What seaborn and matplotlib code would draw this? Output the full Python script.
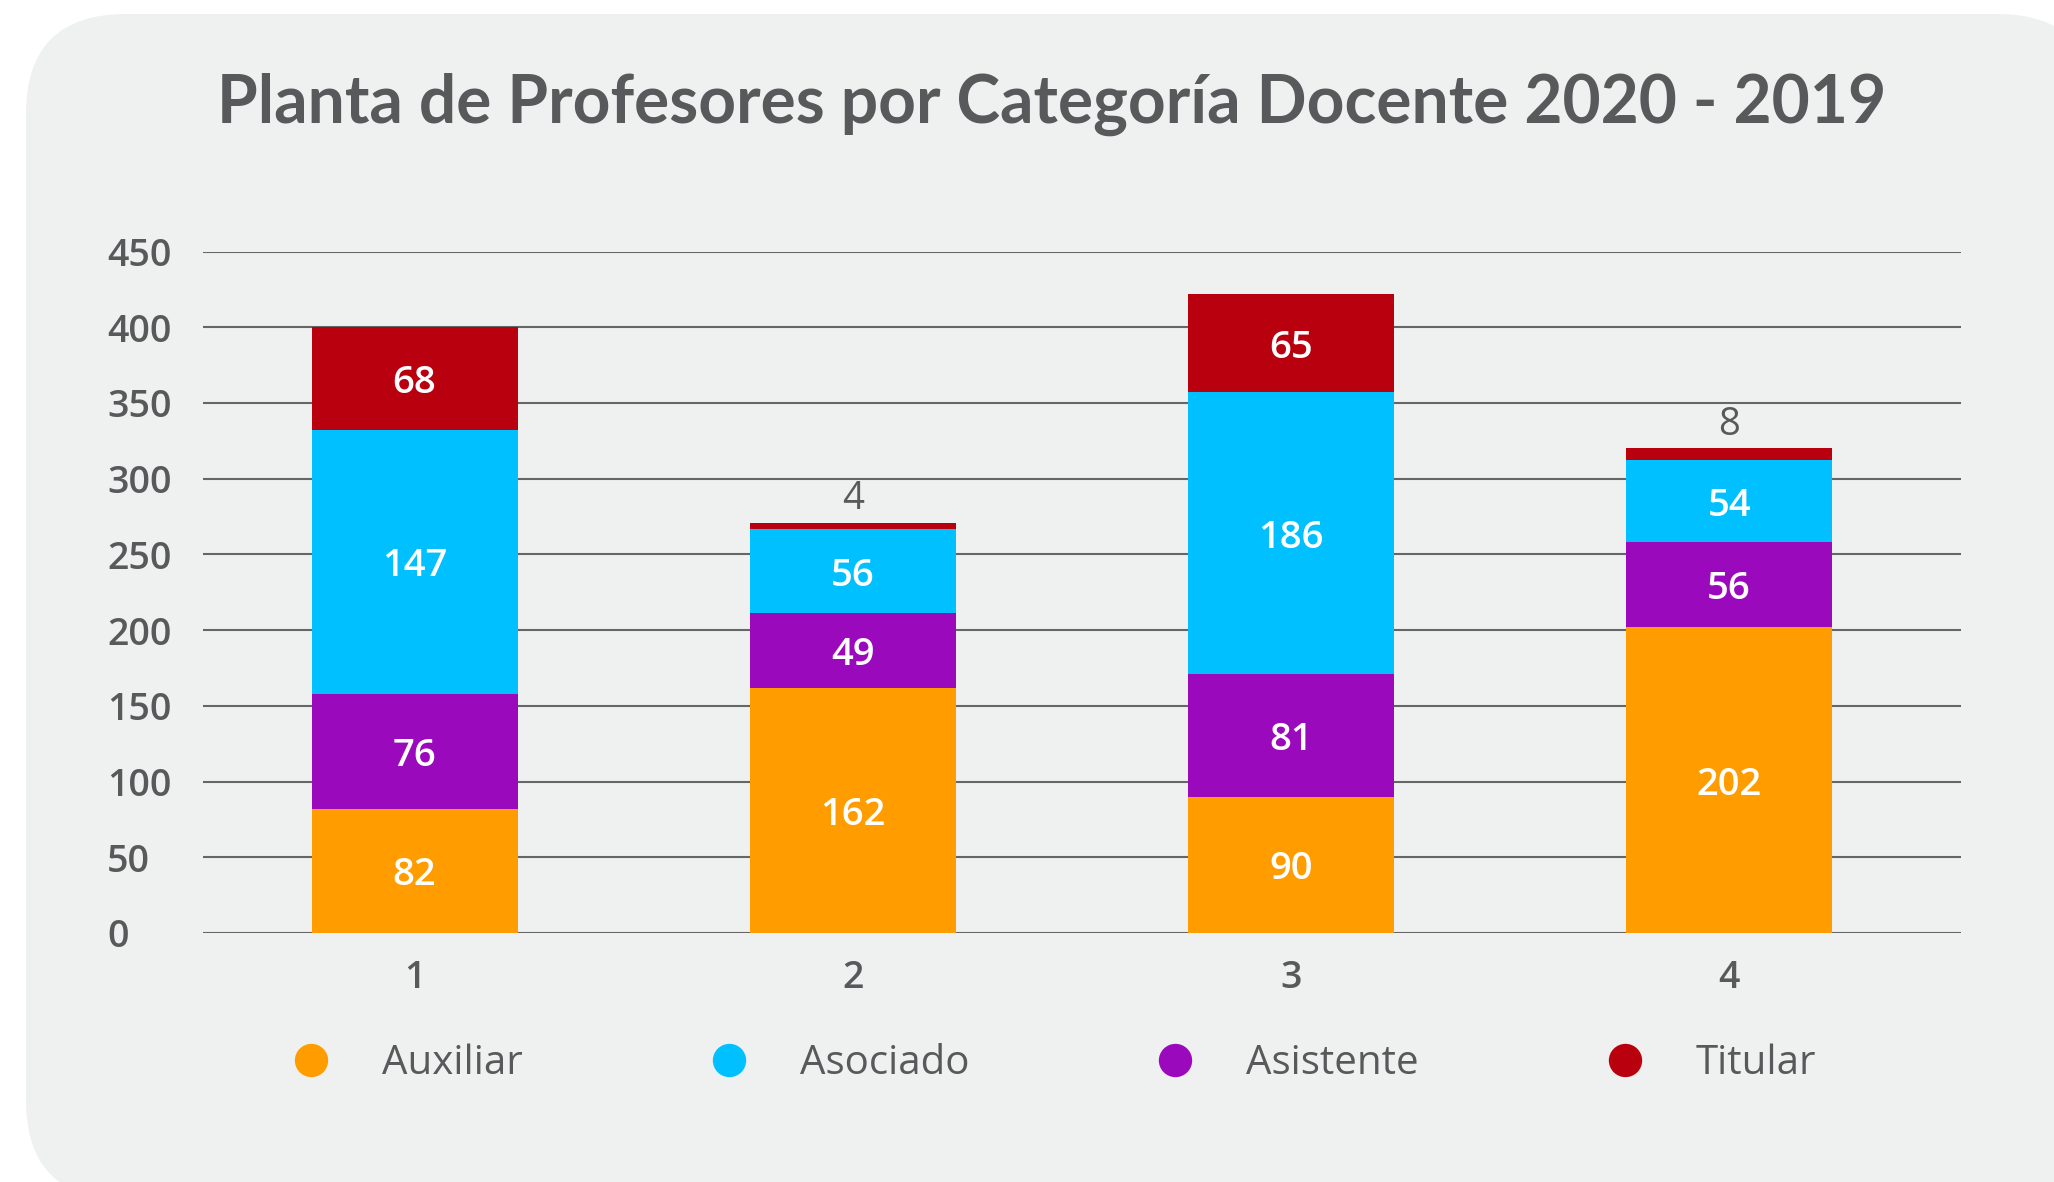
import matplotlib
matplotlib.use("Agg")
import matplotlib.pyplot as plt
from matplotlib.patches import FancyBboxPatch
from matplotlib.lines import Line2D
import seaborn as sns

# datos (lectura del grafico)
periodos = ["1", "2", "3", "4"]
auxiliar = [82, 162, 90, 202]
asistente = [76, 49, 81, 56]
asociado = [174, 56, 186, 54]
titular = [68, 4, 65, 8]
# textos que muestra el grafico original (la barra 1 dice 147)
etiquetas_asociado = ["147", "56", "186", "54"]

series = [("Auxiliar", auxiliar, "#FF9C00"),
          ("Asistente", asistente, "#9B09BD"),
          ("Asociado", asociado, "#00C0FF"),
          ("Titular", titular, "#B9000F")]
orden_leyenda = ["Auxiliar", "Asociado", "Asistente", "Titular"]

gris = "#58595B"
fondo = "#EFF0F0"

sns.set_theme(style="white")
plt.rcParams["font.family"] = ["Open Sans", "DejaVu Sans"]

fig = plt.figure(figsize=(20.54, 11.82), dpi=100, facecolor="white")

# panel redondeado de fondo
bg = fig.add_axes([0, 0, 1, 1], zorder=-1)
bg.set_xlim(0, 2054)
bg.set_ylim(1182, 0)
bg.axis("off")
bg.add_patch(FancyBboxPatch((26, 14), 2071, 1186,
                            boxstyle="round,pad=0,rounding_size=100",
                            facecolor=fondo, edgecolor="none"))

ax = fig.add_axes([0.0988, 0.2107, 0.8559, 0.5765])
ax.set_facecolor("none")

base = [0, 0, 0, 0]
contenedores = {}
for nombre, vals, color in series:
    sns.barplot(x=periodos, y=vals, bottom=base, color=color, saturation=1,
                width=0.47, errorbar=None, ax=ax, zorder=3, linewidth=0)
    contenedores[nombre] = ax.containers[-1]
    base = [b + v for b, v in zip(base, vals)]

lab_kw = dict(label_type="center", color="white", fontsize=27.5, fontweight="semibold")
textos = []
textos += ax.bar_label(contenedores["Auxiliar"], labels=[str(v) for v in auxiliar], **lab_kw)
textos += ax.bar_label(contenedores["Asistente"], labels=[str(v) for v in asistente], **lab_kw)
textos += ax.bar_label(contenedores["Asociado"], labels=etiquetas_asociado, **lab_kw)
textos += ax.bar_label(contenedores["Titular"],
                       labels=[str(v) if v > 20 else "" for v in titular], **lab_kw)
for t in textos:
    t.set_verticalalignment("center_baseline")
ax.bar_label(contenedores["Titular"],
             labels=[str(v) if v <= 20 else "" for v in titular],
             label_type="edge", padding=3, color=gris, fontsize=27.5)

ax.set_xlim(-0.483, 3.529)
ax.set_ylim(0, 450)
ax.set_yticks(range(0, 451, 50))
ax.yaxis.grid(True, color="#666666", linewidth=1.5, zorder=0)
ax.set_axisbelow(True)
for s in ax.spines.values():
    s.set_visible(False)
ax.set_xlabel("")
ax.set_ylabel("")
ax.tick_params(axis="x", length=0, pad=19, labelsize=27, labelcolor=gris)
ax.tick_params(axis="y", length=0, pad=69, labelsize=27, labelcolor=gris)
for t in ax.get_yticklabels():
    t.set_horizontalalignment("left")
    t.set_fontweight("semibold")
for t in ax.get_xticklabels():
    t.set_fontweight("semibold")

fig.text(0.512, 0.912, "Planta de Profesores por Categoría Docente 2020 - 2019",
         ha="center", va="center", fontsize=47.4, fontweight="bold", color=gris,
         family=["Lato", "DejaVu Sans"])

colores = {n: c for n, _, c in series}
handles = [Line2D([], [], linestyle="none", marker="o", markersize=24,
                  markerfacecolor=colores[n], markeredgecolor="none")
           for n in orden_leyenda]
leg = fig.legend(handles, orden_leyenda, loc="center", bbox_to_anchor=(0.513, 0.1),
                 ncol=4, frameon=False, fontsize=29, handlelength=1.0,
                 handletextpad=1.26, columnspacing=4.62)
for t in leg.get_texts():
    t.set_color(gris)

fig.savefig("out.png", dpi=100, facecolor="white")
